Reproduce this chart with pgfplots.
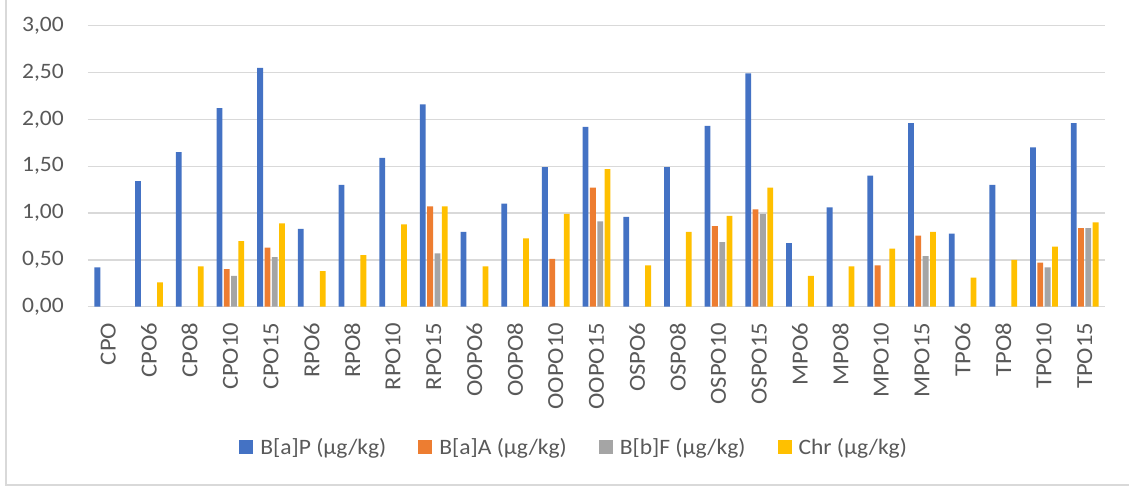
\documentclass[border=0pt]{standalone}
\usepackage{fontspec}
\setmainfont[FakeStretch=1.07]{Carlito}
\usepackage{pgfplots}
\usepackage{pgfplotstable}
\pgfplotsset{compat=1.18}

\definecolor{cBaP}{HTML}{4472C4}
\definecolor{cBaA}{HTML}{ED7D31}
\definecolor{cBbF}{HTML}{A5A5A5}
\definecolor{cChr}{HTML}{FFC000}
\definecolor{gridc}{HTML}{D9D9D9}
\definecolor{txt}{HTML}{595959}

% sample index, concentration (ug/kg)
\pgfplotstableread{
x y
0 0.42
1 1.34
2 1.65
3 2.12
4 2.55
5 0.83
6 1.30
7 1.59
8 2.16
9 0.80
10 1.10
11 1.49
12 1.92
13 0.96
14 1.49
15 1.93
16 2.49
17 0.68
18 1.06
19 1.40
20 1.96
21 0.78
22 1.30
23 1.70
24 1.96
}\tblBaP

\pgfplotstableread{
x y
3 0.40
4 0.63
8 1.07
11 0.51
12 1.27
15 0.86
16 1.04
19 0.44
20 0.76
23 0.47
24 0.84
}\tblBaA

\pgfplotstableread{
x y
3 0.33
4 0.53
8 0.57
12 0.91
15 0.69
16 0.99
20 0.54
23 0.42
24 0.84
}\tblBbF

\pgfplotstableread{
x y
1 0.26
2 0.43
3 0.70
4 0.89
5 0.38
6 0.55
7 0.88
8 1.07
9 0.43
10 0.73
11 0.99
12 1.47
13 0.44
14 0.80
15 0.97
16 1.27
17 0.33
18 0.43
19 0.62
20 0.80
21 0.31
22 0.50
23 0.64
24 0.90
}\tblChr

\begin{document}
\begin{tikzpicture}[x=1pt,y=1pt]
\clip (0,0) rectangle (1129,486);
\fill[white] (0,0) rectangle (1129,486);
\draw[gridc, line width=1.6pt] (6,1) rectangle (1140,500);
\begin{axis}[
  at={(88pt,179.3pt)}, anchor=south west,
  scale only axis, width=1017pt, height=281pt,
  xmin=-0.5, xmax=24.5, ymin=0, ymax=3,
  ytick={0,0.5,1,1.5,2,2.5,3},
  xtick={0,...,24},
  xticklabels={CPO,CPO6,CPO8,CPO10,CPO15,RPO6,RPO8,RPO10,RPO15,OOPO6,OOPO8,OOPO10,OOPO15,OSPO6,OSPO8,OSPO10,OSPO15,MPO6,MPO8,MPO10,MPO15,TPO6,TPO8,TPO10,TPO15},
  ymajorgrids, grid style={gridc, line width=1.3pt},
  axis line style={draw=none}, tick style={draw=none},
  major tick length=0pt,
  yticklabel style={/pgf/number format/.cd, fixed, fixed zerofill, precision=2, use comma, assume math mode=true},
  tick label style={font=\fontsize{22}{26}\selectfont, text=txt, inner sep=0pt},
  yticklabel shift=24pt,
  xticklabel style={rotate=90, anchor=east, font=\fontsize{23}{26}\selectfont},
  xticklabel shift=16pt,
  ybar=1.5pt, bar width=5.8pt,
  every axis plot/.append style={draw=none},
  legend style={at={(0.478,-0.499)}, anchor=center, draw=none, fill=none,
    legend columns=4, font=\fontsize{22}{26}\selectfont, text=txt,
    /tikz/every odd column/.append style={column sep=5pt},
    /tikz/every even column/.append style={column sep=30pt}},
  legend image code/.code={\fill[#1] (0pt,-7pt) rectangle (14pt,7pt);},
]
\addplot[fill=cBaP] table[x=x,y=y] {\tblBaP};
\addlegendentry{B[a]P (µg/kg)}
\addplot[fill=cBaA] table[x=x,y=y] {\tblBaA};
\addlegendentry{B[a]A (µg/kg)}
\addplot[fill=cBbF] table[x=x,y=y] {\tblBbF};
\addlegendentry{B[b]F (µg/kg)}
\addplot[fill=cChr] table[x=x,y=y] {\tblChr};
\addlegendentry{Chr (µg/kg)}
\end{axis}
\end{tikzpicture}
\end{document}
